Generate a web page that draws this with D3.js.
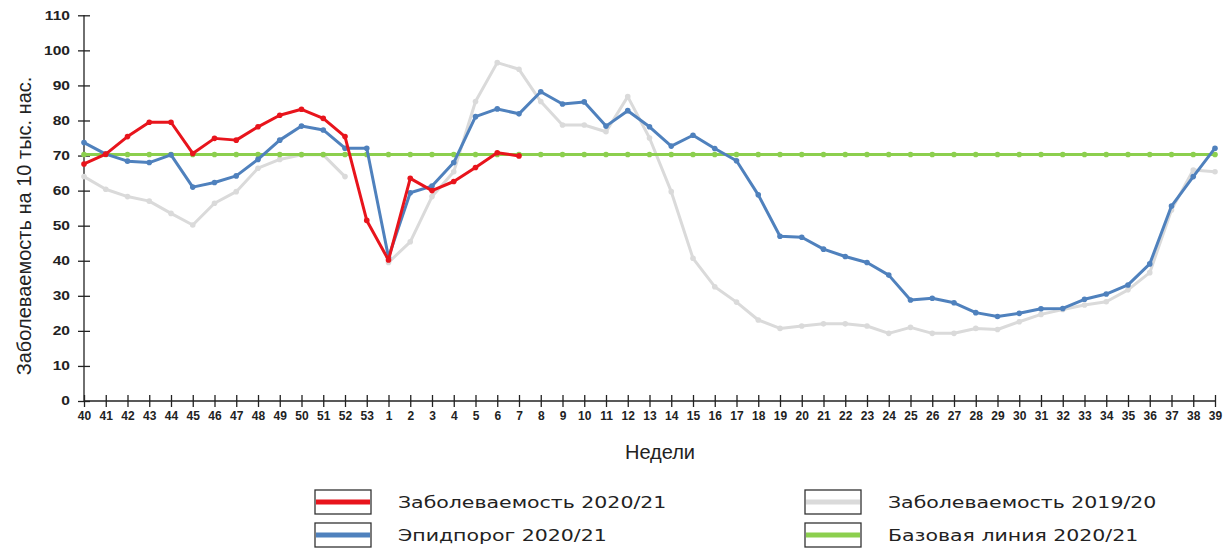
<!DOCTYPE html>
<html>
<head>
<meta charset="utf-8">
<script src="https://cdn.jsdelivr.net/npm/d3@7"></script>
<style>
  body { margin: 0; background: #fff; }
  .tick text { font-family: "Liberation Sans", Arial, sans-serif; font-weight: bold; font-size: 12px; fill: #222; }
  .axisText { font-family: "Liberation Sans", Arial, sans-serif; font-size: 20px; fill: #222; }
  .legText { font-family: "DejaVu Sans", sans-serif; font-size: 16px; fill: #222; }
</style>
</head>
<body>
<div id="chart"></div>
<script>
var svgWidth = 1227;
var svgHeight = 550;

// weeks 40..53, then 1..39
var weeks = ["40","41","42","43","44","45","46","47","48","49","50","51","52","53",
  "1","2","3","4","5","6","7","8","9","10","11","12","13","14","15","16","17","18","19","20",
  "21","22","23","24","25","26","27","28","29","30","31","32","33","34","35","36","37","38","39"];

var yTicks = [0, 10, 20, 30, 40, 50, 60, 70, 80, 90, 100, 110];

// Заболеваемость 2020/21 (до 7 недели)
var incidence2021 = [67.6, 70.4, 75.4, 79.5, 79.5, 70.6, 74.9, 74.4, 78.2, 81.5, 83.2, 80.6, 75.4, 51.5,
  40.2, 63.5, 60.0, 62.6, 66.6, 70.8, 69.9];

// Эпидпорог 2020/21
var threshold2021 = [73.7, 70.4, 68.4, 68.0, 70.2, 61.0, 62.3, 64.2, 68.9, 74.4, 78.4, 77.3, 72.1, 72.1,
  41.0, 59.4, 61.3, 68.0, 81.1, 83.3, 81.9, 88.2, 84.7, 85.3, 78.4, 82.8, 78.2, 72.7, 75.8, 72.0, 68.5,
  58.8, 47.0, 46.7, 43.3, 41.2, 39.5, 35.9, 28.8, 29.3, 28.0, 25.2, 24.1, 25.0, 26.3, 26.4, 29.0, 30.5,
  33.1, 39.1, 55.6, 64.0, 72.1];

// Заболеваемость 2019/20 (нет 53 недели)
var incidence1920 = [64.0, 60.4, 58.3, 57.0, 53.5, 50.2, 56.4, 59.7, 66.4, 68.9, 70.2, 70.2, 64.0, null,
  39.5, 45.4, 58.3, 65.4, 85.4, 96.5, 94.6, 85.4, 78.7, 78.7, 76.8, 86.8, 75.0, 59.7, 40.7, 32.6, 28.2,
  23.1, 20.7, 21.4, 22.0, 22.0, 21.4, 19.3, 21.0, 19.3, 19.3, 20.7, 20.4, 22.6, 24.7, 26.1, 27.4, 28.3,
  31.7, 36.6, 54.5, 65.9, 65.4];

// Базовая линия 2020/21
var baseline2021 = weeks.map(function() { return 70.3; });

var series = [
  { name: "Заболеваемость 2019/20", values: incidence1920, color: "#dadada" },
  { name: "Базовая линия 2020/21", values: baseline2021, color: "#8ccf4e" },
  { name: "Эпидпорог 2020/21", values: threshold2021, color: "#4f81bd" },
  { name: "Заболеваемость 2020/21", values: incidence2021, color: "#e8141c" }
];

var svg = d3.select("#chart")
  .append("svg")
  .attr("width", svgWidth)
  .attr("height", svgHeight);

var x = d3.scalePoint()
  .domain(weeks)
  .range([84, 1215]);

var y = d3.scaleLinear()
  .domain([0, 110])
  .range([401, 15.3]);

// axes with ticks crossing the line
var yAxis = svg.append("g")
  .attr("transform", "translate(84,0)")
  .call(d3.axisLeft(y).tickValues(yTicks).tickSize(6).tickSizeOuter(0).tickPadding(14));
yAxis.selectAll(".tick line").attr("x2", 6).attr("x1", -6);
// the original labels look stretched sideways
yAxis.selectAll(".tick text")
  .attr("x", 0)
  .attr("transform", "translate(-14,0) scale(1.3,1)");

var xAxis = svg.append("g")
  .attr("transform", "translate(0,401)")
  .call(d3.axisBottom(x).tickSize(6).tickSizeOuter(0).tickPadding(4));
xAxis.selectAll(".tick line").attr("y1", -6).attr("y2", 6);

svg.selectAll(".domain, .tick line").attr("stroke", "#222").attr("stroke-width", 1.3);
xAxis.select(".domain").attr("d", "M84,0H1216");
yAxis.select(".domain").attr("d", "M0,401V15");

var line = d3.line()
  .defined(function(d) { return d != null; })
  .x(function(d, i) { return x(weeks[i]); })
  .y(function(d) { return y(d); });

series.forEach(function(s) {
  svg.append("path")
    .datum(s.values)
    .attr("fill", "none")
    .attr("stroke", s.color)
    .attr("stroke-width", 3)
    .attr("stroke-linejoin", "round")
    .attr("d", line);

  svg.append("g").selectAll("circle")
    .data(s.values.map(function(v, i) { return { v: v, i: i }; }).filter(function(d) { return d.v != null; }))
    .enter()
    .append("circle")
    .attr("cx", function(d) { return x(weeks[d.i]); })
    .attr("cy", function(d) { return y(d.v); })
    .attr("r", 2.8)
    .attr("fill", s.color);
});

svg.append("text")
  .attr("transform", "translate(31,226) rotate(-90)")
  .attr("text-anchor", "middle")
  .attr("class", "axisText")
  .text("Заболеваемость на 10 тыс. нас.");

svg.append("text")
  .attr("x", 660)
  .attr("y", 459)
  .attr("text-anchor", "middle")
  .attr("class", "axisText")
  .text("Недели");

// legend
var legend = [
  { s: series[3], x: 315, y: 490 },
  { s: series[2], x: 315, y: 523 },
  { s: series[0], x: 805, y: 490 },
  { s: series[1], x: 805, y: 523 }
];

legend.forEach(function(l) {
  svg.append("rect")
    .attr("x", l.x)
    .attr("y", l.y)
    .attr("width", 56)
    .attr("height", 24)
    .attr("fill", "#fff")
    .attr("stroke", "#333")
    .attr("stroke-width", 1.3);
  svg.append("line")
    .attr("x1", l.x + 1)
    .attr("x2", l.x + 55)
    .attr("y1", l.y + 12)
    .attr("y2", l.y + 12)
    .attr("stroke", l.s.color)
    .attr("stroke-width", 5);
  svg.append("text")
    .attr("transform", "translate(" + (l.x + 83) + "," + (l.y + 18) + ") scale(1.28,1)")
    .attr("class", "legText")
    .text(l.s.name);
});
</script>
</body>
</html>
